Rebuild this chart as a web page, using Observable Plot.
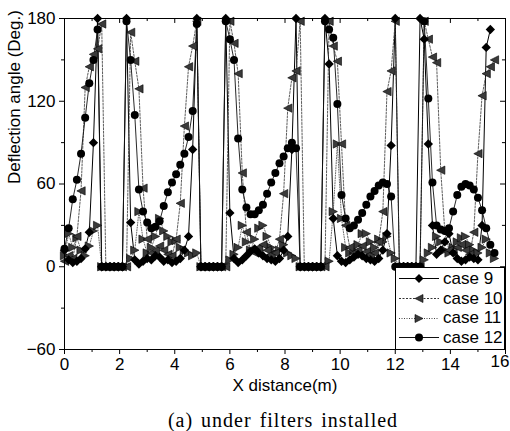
<!DOCTYPE html>
<html><head><meta charset="utf-8">
<script src="https://cdn.jsdelivr.net/npm/d3@7"></script>
<script src="https://cdn.jsdelivr.net/npm/@observablehq/plot@0.6"></script>
<style>
body{margin:0;background:#fff;}
#wrap{position:relative;width:510px;height:431px;overflow:hidden;font-family:"Liberation Sans",Arial,sans-serif;}
#legend{position:absolute;left:395px;top:267px;width:108px;height:80px;border:1px solid #000;background:#fff;overflow:hidden;padding-top:1px;box-sizing:content-box;}
.row{display:flex;align-items:center;height:19.7px;font-size:17px;white-space:nowrap;}
.row svg{flex:none;margin-right:1px;}
#caption{position:absolute;left:0;top:404px;width:566px;text-align:center;font-family:"Liberation Serif","DejaVu Serif",serif;font-size:20px;letter-spacing:1px;word-spacing:2px;line-height:32px;}
</style></head>
<body>
<div id="wrap">
<div id="chart"></div>
<div id="legend"></div>
<div id="caption">(a) under filters installed</div>
</div>
<script>
// x positions (m)
const xs = [
0,0.15,0.3,0.45,0.6,0.75,0.9,1.05,1.2,1.35,1.5,1.65,1.8,1.95,2.1,
2.25,2.4,2.55,2.7,2.85,3,3.15,3.3,3.45,3.6,3.75,3.9,4.05,4.2,4.35,
4.5,4.65,4.8,4.95,5.1,5.25,5.4,5.55,5.7,5.85,6,6.15,6.3,6.45,6.6,
6.75,6.9,7.05,7.2,7.35,7.5,7.65,7.8,7.95,8.1,8.25,8.4,8.55,8.7,8.85,
9,9.15,9.3,9.45,9.6,9.75,9.9,10.05,10.2,10.35,10.5,10.65,10.8,10.95,11.1,
11.25,11.4,11.55,11.7,11.85,12,12.15,12.3,12.45,12.6,12.75,12.9,13.05,13.2,13.35,
13.5,13.65,13.8,13.95,14.1,14.25,14.4,14.55,14.7,14.85,15,15.15,15.3,15.45,15.6];

const case9 = [
12,5,3,4,6,13,25,90,180,0,0,0,0,0,0,
180,32,5,2,4,6,5,8,7,4,5,3,4,6,12,
22,85,180,0,0,0,0,0,0,180,39,6,3,5,8,
11,13,10,8,6,5,4,6,12,22,85,180,0,0,0,
0,0,0,180,147,35,8,4,3,5,7,9,8,6,5,
4,6,12,24,88,180,0,0,0,0,0,180,165,89,30,
9,12,18,24,10,6,4,5,7,6,5,30,159,172,null];

const case10 = [
4,8,6,22,55,130,145,154,158,176,0,0,0,0,0,
0,170,149,129,57,20,10,12,15,12,9,8,20,46,102,
145,160,178,0,0,0,0,0,0,0,178,162,140,68,25,
12,10,14,16,12,9,10,20,53,115,137,142,178,0,0,
0,0,0,0,178,160,149,89,30,14,10,12,15,11,9,
10,18,40,127,142,178,0,0,0,0,0,0,178,165,152,
148,70,25,12,10,14,16,12,9,25,82,124,140,145,150];

const case11 = [
8,24,14,21,12,8,15,26,30,0,0,0,0,0,0,
0,6,12,40,20,10,14,22,35,26,22,18,19,14,12,
10,8,10,0,0,0,0,0,0,0,5,9,14,30,18,
12,20,28,30,22,14,10,12,16,10,8,6,0,0,0,
0,0,0,0,4,40,89,35,14,10,12,16,24,24,18,
14,20,18,22,10,6,0,0,0,0,0,0,5,10,14,
22,18,12,10,14,18,21,22,16,12,10,14,20,10,6];

const case12 = [
13,28,49,63,82,108,133,150,172,0,0,0,0,0,0,
178,150,110,56,40,32,28,29,33,44,54,61,67,74,82,
94,113,176,0,0,0,0,0,0,178,165,150,93,56,43,
38,38,41,45,53,61,68,75,80,86,90,86,0,0,0,
0,0,0,178,172,166,118,52,35,28,30,34,39,45,51,
55,59,61,60,51,0,0,0,0,0,0,0,178,122,61,
30,27,26,28,40,52,58,60,59,56,50,41,28,16,10];

const seriesNames = ["case 9","case 10","case 11","case 12"];
const yTicks = [-60,0,60,120,180];
const yMinor = [-30,30,90,150];
const xTicks = [0,2,4,6,8,10,12,14,16];
const xMinor = [1,3,5,7,9,11,13,15];

const triLeft = {draw(ctx, size){const s=Math.sqrt(size);ctx.moveTo(-0.65*s,0);ctx.lineTo(0.65*s,-0.65*s);ctx.lineTo(0.65*s,0.65*s);ctx.closePath();}};
const triRight = {draw(ctx, size){const s=Math.sqrt(size);ctx.moveTo(0.65*s,0);ctx.lineTo(-0.65*s,-0.65*s);ctx.lineTo(-0.65*s,0.65*s);ctx.closePath();}};

const mk = ys => xs.map((x,i) => ({x, y: ys[i]}));
const styles = [
  {values: case9,  symbol: "diamond2", r: 4.2, fill: "#000", line: "#000", dash: null,    lw: 1},
  {values: case10, symbol: triLeft,    r: 3.6, fill: "#3a3a3a", line: "#333", dash: "2,1.5", lw: 0.8},
  {values: case11, symbol: triRight,   r: 3.6, fill: "#3a3a3a", line: "#444", dash: "1,1.5", lw: 0.8},
  {values: case12, symbol: "circle",   r: 4,   fill: "#000", line: "#111", dash: null,    lw: 0.9}
];

const lineMarks = styles.map(s => Plot.line(mk(s.values), {x:"x", y:"y", stroke: s.line, strokeWidth: s.lw, strokeDasharray: s.dash}));
const dotOrder = [2,1,0,3];
const dotMarks = dotOrder.map(k => { const s = styles[k];
  return Plot.dot(mk(s.values).filter(d => d.y != null), {x:"x", y:"y", symbol: s.symbol, r: s.r, fill: s.fill, stroke: "#000", strokeWidth: k===1||k===2 ? 0.6 : 0});
});

const lastX = xTicks[xTicks.length - 1];
const chart = Plot.plot({
  width: 510, height: 400,
  marginLeft: 64, marginRight: 5, marginTop: 18, marginBottom: 51,
  x: {domain: [0,16]},
  y: {domain: [-60,180]},
  style: {fontFamily: '"Liberation Sans", Arial, sans-serif', fontSize: "17px", background: "#fff", color: "#000"},
  marks: [
    ...lineMarks,
    ...dotMarks,
    Plot.frame({stroke: "#000", strokeWidth: 1}),
    Plot.axisY(yTicks, {tickSize: 5, tickPadding: 4, label: null}),
    Plot.axisY(yMinor, {tickSize: 3, tickFormat: () => "", label: null}),
    Plot.axisX(xTicks, {tickSize: 5, tickPadding: 3, label: null, tickFormat: d => d === lastX ? "" : d}),
    Plot.axisX(xMinor, {tickSize: 3, tickFormat: () => "", label: null}),
    Plot.text([lastX], {x: d => d, frameAnchor: "bottom", dy: 17, dx: 4, textAnchor: "end", fontSize: 17, fill: "#000"}),
    Plot.ruleX(xTicks, {y1: 180, y2: 176.4, stroke: "#000"}),
    Plot.ruleX(xMinor, {y1: 180, y2: 177.8, stroke: "#000"}),
    Plot.ruleY(yTicks, {x1: 16, x2: 15.82, stroke: "#000"}),
    Plot.ruleY(yMinor, {x1: 16, x2: 15.89, stroke: "#000"}),
    Plot.text(["Deflection angle (Deg.)"], {frameAnchor: "left", dx: -50, rotate: -90, fontSize: 17, fill: "#000"}),
    Plot.text(["X distance(m)"], {frameAnchor: "bottom", dy: 41, fontSize: 17, fill: "#000"})
  ]
});
document.getElementById("chart").appendChild(chart);

// legend
const leg = document.getElementById("legend");
const legSym = [
  '<path d="M23,5 L27.5,9.5 L23,14 L18.5,9.5Z" fill="#000"/>',
  '<path d="M19,9.5 L27,5.5 L27,13.5Z" fill="#3a3a3a" stroke="#000" stroke-width="0.6"/>',
  '<path d="M27,9.5 L19,5.5 L19,13.5Z" fill="#3a3a3a" stroke="#000" stroke-width="0.6"/>',
  '<circle cx="23" cy="9.5" r="4" fill="#000"/>'
];
seriesNames.forEach((name, k) => {
  const s = styles[k];
  const row = document.createElement("div");
  row.className = "row";
  row.innerHTML = `<svg width="46" height="19"><line x1="3" x2="43" y1="9.5" y2="9.5" stroke="${s.line}" stroke-width="1" ${s.dash ? `stroke-dasharray="${s.dash}"` : ""}/>${legSym[k]}</svg><span>${name}</span>`;
  leg.appendChild(row);
});
</script>
</body></html>
